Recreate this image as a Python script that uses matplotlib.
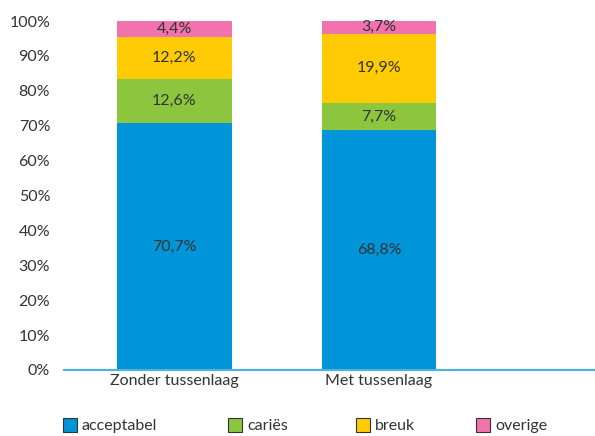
import matplotlib.pyplot as plt
from matplotlib.patches import Rectangle
import numpy as np

# data
categories = ['Zonder tussenlaag', 'Met tussenlaag']
acceptabel = [70.7, 68.8]
caries = [12.6, 7.7]
breuk = [12.2, 19.9]
overige = [4.4, 3.7]
series_names = ['acceptabel', 'cariës', 'breuk', 'overige']
colors = ['#0094d8', '#8cc63f', '#ffcb05', '#f172ac']

plt.rcParams['font.family'] = ['Lato', 'DejaVu Sans']
txt = '#333333'
W, H = 595, 436

fig = plt.figure(figsize=(5.95, 4.36), dpi=100)
ax = fig.add_axes([0.1076, 0.1514, 0.8924, 0.8004])

x = np.arange(len(categories))
bottom = np.zeros(len(categories))
for vals, name, col in zip([acceptabel, caries, breuk, overige], series_names, colors):
    ax.bar(x, vals, 0.56, bottom=bottom, color=col, label=name)
    for xi, b, v in zip(x, bottom, vals):
        ax.text(xi, b + v / 2, ('%.1f%%' % v).replace('.', ','), ha='center', va='center',
                fontsize=11.5, color=txt)
    bottom += np.array(vals)

ax.set_xlim(-0.54, 2.056)
ax.set_ylim(0, 100)
ax.set_yticks(np.arange(0, 101, 10))
ax.set_yticklabels(['%d%%' % v for v in range(0, 101, 10)])
ax.set_xticks(x)
ax.set_xticklabels(categories)
ax.tick_params(length=0, labelsize=11.5, colors=txt)
ax.tick_params(axis='y', pad=10)
ax.tick_params(axis='x', pad=3)
for s in ['top', 'right', 'left']:
    ax.spines[s].set_visible(False)
ax.spines['bottom'].set_color('#4db3e0')
ax.spines['bottom'].set_linewidth(1.5)

# legend items placed by hand (pixel positions of the markers)
leg_x = [63, 228, 356, 476]
for lx, name, col in zip(leg_x, series_names, colors):
    fig.add_artist(Rectangle((lx / W, 4 / H), 14 / W, 14 / H, transform=fig.transFigure,
                             facecolor=col, edgecolor='#333333', linewidth=0.8))
    fig.text((lx + 19) / W, 6 / H, name, fontsize=11.5, color=txt, ha='left', va='baseline')

fig.savefig('out.png', dpi=100)
